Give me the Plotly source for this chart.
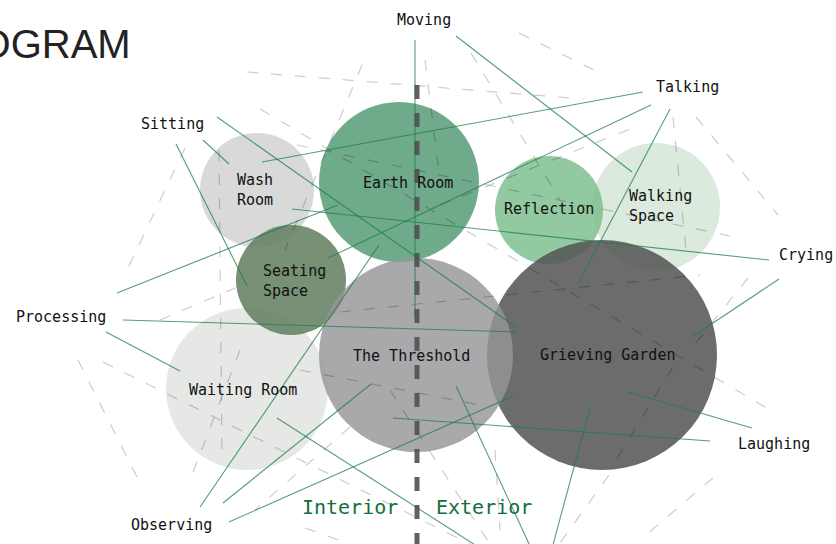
import plotly.graph_objects as go

# ---------------- data ----------------
# spaces (bubbles): centre x, centre y, radius (diagram units), colour
space_names = ["Waiting Room", "Wash Room", "Seating Space", "Earth Room",
               "Walking Space", "Reflection", "Grieving Garden", "The Threshold"]
space_x = [247, 257, 291, 399, 656, 549, 602, 416]
space_y = [389, 190, 280, 182, 207, 210, 355, 355]
space_r = [81, 57, 55, 80, 64, 54, 115, 97]
space_fill = ["rgba(226,228,226,0.85)", "rgba(210,210,210,0.85)", "rgba(98,126,96,0.86)",
              "rgba(82,153,116,0.83)", "rgba(214,229,215,0.85)", "rgba(120,188,138,0.8)",
              "rgba(84,84,84,0.86)", "rgba(150,149,152,0.82)"]
space_label = ["Waiting Room", "Wash<br>Room", "Seating<br>Space", "Earth Room",
               "Walking<br>Space", "Reflection", "Grieving Garden", "The Threshold"]
label_x = [243, 235, 261, 408, 627, 549, 607, 411]
label_y = [390, 190, 281, 183, 206, 209, 355, 356]
label_align = ["center", "left", "left", "center", "left", "center", "center", "center"]

# activities (labels around the diagram)
act_names = ["Moving", "Talking", "Sitting", "Crying", "Processing", "Laughing", "Observing"]
act_x = [424, 687, 172, 806, 61, 774, 171]
act_y = [20, 87, 124, 255, 317, 444, 525]

# links activity -> space (start near label, end inside bubble)
link_x0 = [415, 456, 643, 651, 670, 217, 203, 176, 769, 779, 117, 123, 106, 752, 710, 200, 223, 229, 456, 590, 277]
link_y0 = [40, 36, 92, 105, 109, 117, 140, 144, 260, 279, 293, 320, 332, 428, 441, 507, 503, 522, 386, 408, 418]
link_x1 = [415, 632, 262, 328, 579, 516, 229, 247, 292, 692, 338, 516, 180, 628, 393, 379, 371, 513, 555, 538, 561]
link_y1 = [318, 172, 162, 258, 282, 327, 164, 286, 209, 337, 205, 332, 371, 392, 418, 245, 384, 396, 600, 600, 600]

# faint dashed guide lines
guide_x0 = [247, 519, 696, 748, 260, 297, 362, 471, 425, 440, 673, 185, 78, 103, 219, 240, 350, 305, 160, 340, 713, 609, 673, 390, 495, 300]
guide_y0 = [72, 33, 117, 278, 109, 145, 65, 53, 60, 205, 117, 148, 360, 362, 150, 350, 427, 528, 320, 312, 478, 475, 367, 390, 450, 370]
guide_x1 = [583, 600, 778, 690, 770, 730, 285, 560, 440, 640, 686, 128, 140, 470, 222, 190, 255, 367, 240, 700, 640, 555, 616, 490, 500, 480]
guide_y1 = [99, 73, 215, 350, 410, 236, 250, 200, 180, 125, 250, 268, 483, 544, 460, 480, 510, 550, 286, 275, 540, 550, 460, 544, 530, 405]

# interior / exterior divider
divider_x = [417, 417]
divider_y = [85, 544]

title_text = "PROGRAM"

MONO = "DejaVu Sans Mono"

fig = go.Figure()

# bubbles
for i in range(len(space_names)):
    fig.add_shape(type="circle", xref="x", yref="y",
                  x0=space_x[i] - space_r[i], x1=space_x[i] + space_r[i],
                  y0=space_y[i] - space_r[i], y1=space_y[i] + space_r[i],
                  fillcolor=space_fill[i], line=dict(width=0), layer="below")

def segs(x0, y0, x1, y1):
    xs, ys = [], []
    for a, b, c, d in zip(x0, y0, x1, y1):
        xs += [a, c, None]
        ys += [b, d, None]
    return xs, ys

gx, gy = segs(guide_x0, guide_y0, guide_x1, guide_y1)
fig.add_trace(go.Scatter(x=gx, y=gy, mode="lines", hoverinfo="skip",
                         line=dict(color="rgba(0,0,0,0.2)", width=1.2, dash="11px,13px")))

lx, ly = segs(link_x0, link_y0, link_x1, link_y1)
fig.add_trace(go.Scatter(x=lx, y=ly, mode="lines", hoverinfo="skip",
                         line=dict(color="rgba(30,125,75,0.75)", width=1.1)))

fig.add_trace(go.Scatter(x=divider_x, y=divider_y, mode="lines", hoverinfo="skip",
                         line=dict(color="rgba(80,80,80,0.9)", width=5, dash="14px,14px")))

# bubble labels
for i in range(len(space_names)):
    fig.add_annotation(x=label_x[i], y=label_y[i], text=space_label[i], showarrow=False,
                       xanchor="left" if label_align[i] == "left" else "center",
                       align=label_align[i], yanchor="middle",
                       font=dict(family=MONO, size=15, color="#111"))

# activity labels
for n, x, y in zip(act_names, act_x, act_y):
    fig.add_annotation(x=x, y=y, text=n, showarrow=False, xanchor="center", yanchor="middle",
                       font=dict(family=MONO, size=15, color="#111"))

fig.add_annotation(x=400, y=507, text="Interior", showarrow=False, xanchor="right", yanchor="middle",
                   font=dict(family=MONO, size=20, color="rgb(18,110,58)"))
fig.add_annotation(x=434, y=507, text="Exterior", showarrow=False, xanchor="left", yanchor="middle",
                   font=dict(family=MONO, size=20, color="rgb(18,110,58)"))

fig.add_annotation(x=133, y=44, text=title_text, showarrow=False, xanchor="right", yanchor="middle",
                   font=dict(family="Liberation Sans", size=40, color="#222"))

fig.update_layout(width=836, height=544, margin=dict(l=0, r=0, t=0, b=0),
                  paper_bgcolor="white", plot_bgcolor="white", showlegend=False,
                  xaxis=dict(range=[0, 836], visible=False, fixedrange=True),
                  yaxis=dict(range=[544, 0], visible=False, fixedrange=True))

fig.write_html("out.html", config={"displayModeBar": False},
               post_script="document.body.style.margin='0';document.body.style.overflow='hidden';")
